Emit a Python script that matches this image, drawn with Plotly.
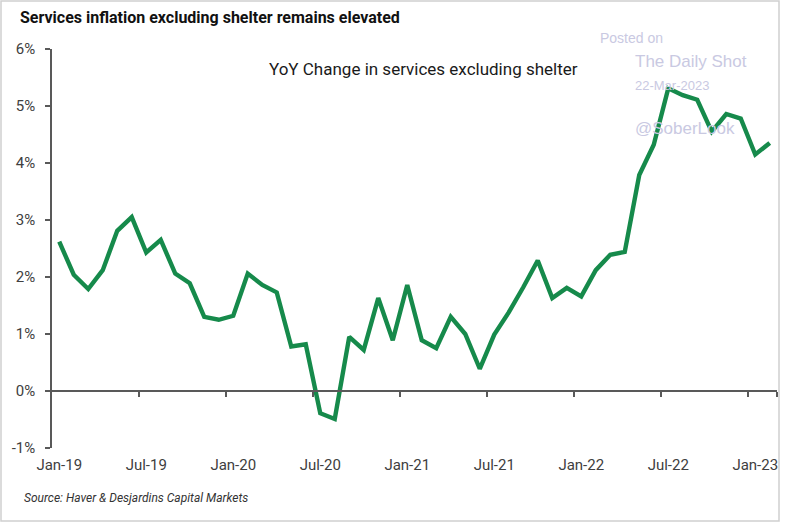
import plotly.graph_objects as go

months = ["Jan-19","Feb-19","Mar-19","Apr-19","May-19","Jun-19","Jul-19","Aug-19","Sep-19","Oct-19","Nov-19","Dec-19",
          "Jan-20","Feb-20","Mar-20","Apr-20","May-20","Jun-20","Jul-20","Aug-20","Sep-20","Oct-20","Nov-20","Dec-20",
          "Jan-21","Feb-21","Mar-21","Apr-21","May-21","Jun-21","Jul-21","Aug-21","Sep-21","Oct-21","Nov-21","Dec-21",
          "Jan-22","Feb-22","Mar-22","Apr-22","May-22","Jun-22","Jul-22","Aug-22","Sep-22","Oct-22","Nov-22","Dec-22",
          "Jan-23","Feb-23"]
yoy = [2.62, 2.04, 1.79, 2.12, 2.81, 3.05, 2.43, 2.65, 2.06, 1.89,
       1.30, 1.25, 1.32, 2.06, 1.86, 1.73, 0.78, 0.82, -0.39, -0.49,
       0.95, 0.72, 1.63, 0.89, 1.86, 0.89, 0.75, 1.30, 1.00, 0.39,
       0.99, 1.38, 1.82, 2.29, 1.63, 1.81, 1.66, 2.12, 2.39, 2.44,
       3.79, 4.32, 5.31, 5.19, 5.11, 4.55, 4.86, 4.78, 4.15, 4.35]
label_months = ["Jan-19","Jul-19","Jan-20","Jul-20","Jan-21","Jul-21","Jan-22","Jul-22","Jan-23"]
y_ticks = [-1, 0, 1, 2, 3, 4, 5, 6]
y_labels = ["-1%", "0%", "1%", "2%", "3%", "4%", "5%", "6%"]

idx = list(range(len(months)))
label_idx = [months.index(m) for m in label_months]
sep_idx = [i - 0.5 for i in label_idx[1:]] + [len(months) - 0.5]

FONT = "Roboto, Arial"
AX = "#595959"
xr = [-0.5, len(months) - 0.5]
yr = [-1, 6]

fig = go.Figure()
fig.add_trace(go.Scatter(x=idx, y=yoy, mode="lines",
                         line=dict(color="#168a4b", width=4.4, shape="linear"),
                         hoverinfo="skip", showlegend=False))
# invisible trace for the zero-line axis
fig.add_trace(go.Scatter(x=[xr[0]], y=[0], xaxis="x2", mode="markers",
                         marker=dict(opacity=0), showlegend=False, hoverinfo="skip"))

fig.update_layout(
    width=786, height=523,
    margin=dict(l=52, r=9, t=49, b=75),
    paper_bgcolor="white", plot_bgcolor="white",
    font=dict(family=FONT, color="#404040", size=15),
    xaxis=dict(range=xr, tickvals=label_idx, ticktext=label_months,
               showgrid=False, zeroline=False, showline=False, ticks="",
               tickfont=dict(size=15, color="#404040"), ticklabelstandoff=6),
    xaxis2=dict(range=xr, overlaying="x", anchor="free", position=(0 - yr[0]) / (yr[1] - yr[0]),
                side="bottom", showline=True, linecolor=AX, linewidth=1.5,
                tickvals=sep_idx, ticks="outside", ticklen=5, tickwidth=1.5, tickcolor=AX,
                showticklabels=False, showgrid=False, zeroline=False),
    yaxis=dict(range=yr, tickvals=y_ticks, ticktext=y_labels, showgrid=False, zeroline=False,
               showline=True, linecolor=AX, linewidth=1.5, ticks="outside", ticklen=5,
               tickwidth=1.5, tickcolor=AX, tickfont=dict(size=15, color="#404040"),
               ticklabelstandoff=7),
)

fig.add_annotation(text="<b>Services inflation excluding shelter remains elevated</b>",
                   xref="paper", yref="paper", x=-0.047, y=1 + (49 - 18) / 399, xanchor="left", yanchor="middle",
                   showarrow=False, font=dict(size=16, color="#111111", family=FONT))
fig.add_annotation(text="YoY Change in services excluding shelter",
                   xref="paper", yref="paper", x=0.512, y=0.95, xanchor="center", yanchor="middle",
                   showarrow=False, font=dict(size=17, color="#1a1a1a", family=FONT))
fig.add_annotation(text="<i>Source: Haver & Desjardins Capital Markets</i>",
                   xref="paper", yref="paper", x=-0.042, y=-0.125, xanchor="left", yanchor="middle",
                   showarrow=False, font=dict(size=12, color="#333333", family=FONT))

wm = "#c9c9e2"
WF = "Liberation Sans, Arial"
for txt, px, py, sz in [("Posted on", 598, 38, 14), ("The Daily Shot", 633, 61, 17),
                        ("22-Mar-2023", 633, 86, 13), ("@SoberLook", 633, 128, 17)]:
    fig.add_annotation(text=txt, xref="paper", yref="paper",
                       x=(px - 52) / 725, y=1 - (py - 49) / 399, xanchor="left", yanchor="middle",
                       showarrow=False, font=dict(size=sz, color=wm, family=WF))

fig.add_shape(type="rect", xref="paper", yref="paper",
              x0=-51 / 725, x1=(779 - 52) / 725, y0=-73 / 399, y1=1 + 48 / 399,
              line=dict(color="#d0d0d0", width=1.5), fillcolor="rgba(0,0,0,0)", layer="below")

fig.write_html("out.html", config={"displayModeBar": False},
               post_script="document.body.style.margin='0';document.body.style.padding='0';")
